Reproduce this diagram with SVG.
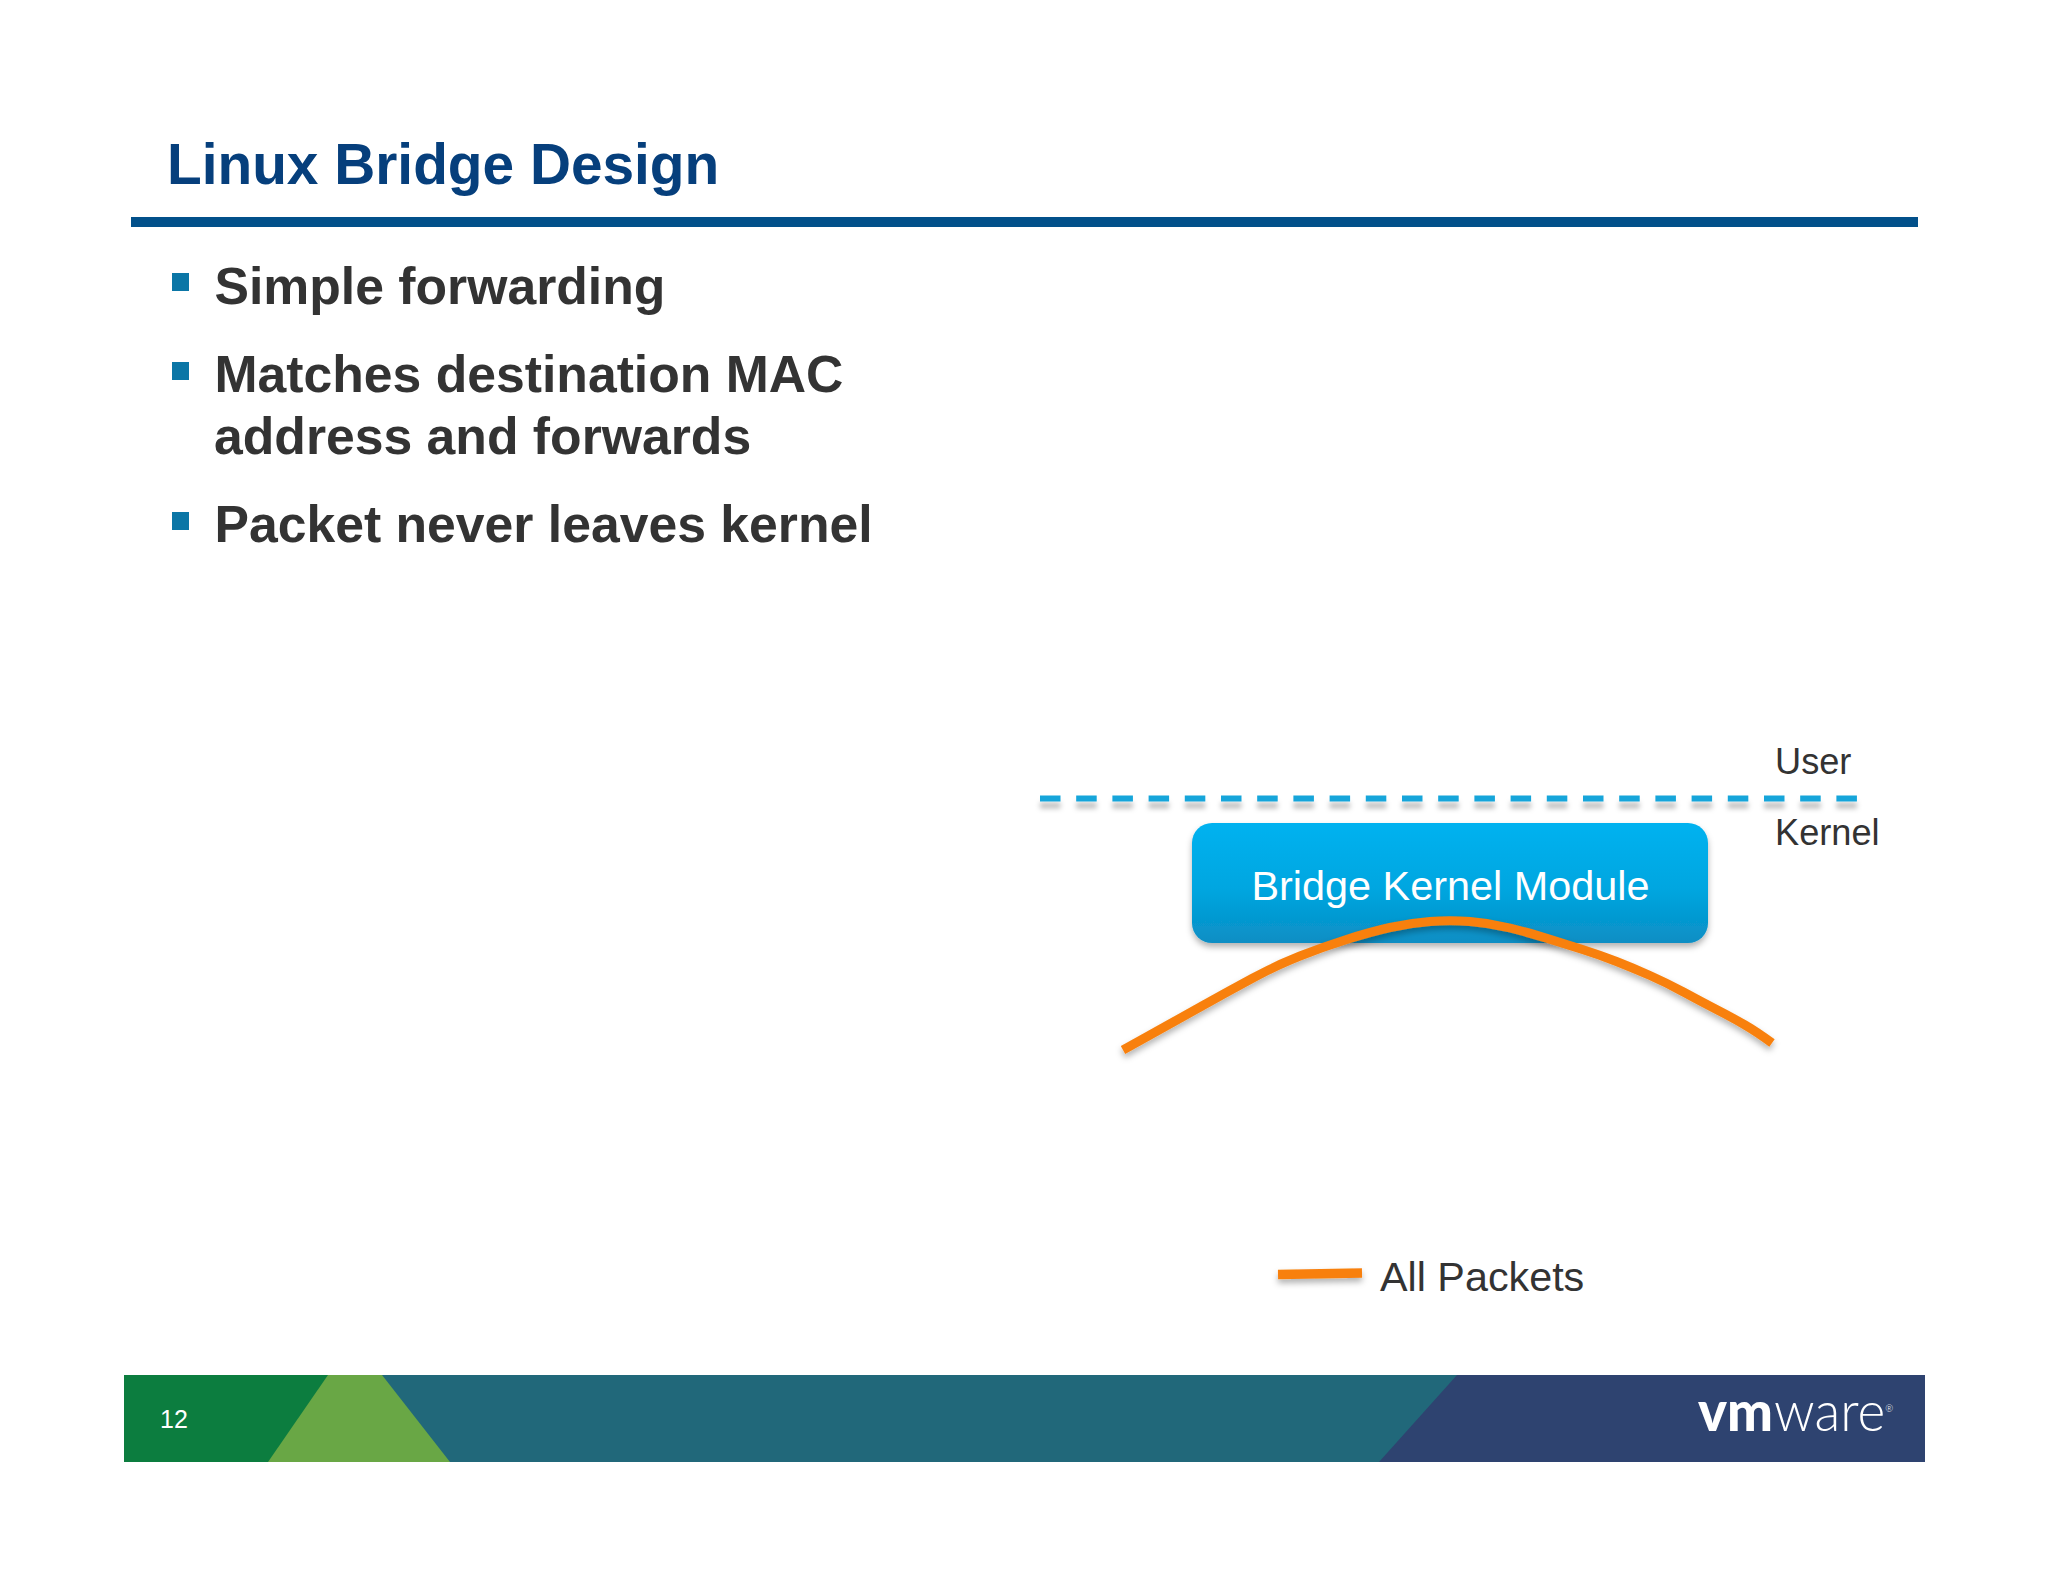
<svg xmlns="http://www.w3.org/2000/svg" width="2048" height="1582" viewBox="0 0 2048 1582">
<style>
text{font-family:"Liberation Sans",Arial,sans-serif}
.b{font-weight:700;font-size:51.7px;fill:#333333}
.l{font-size:36.2px;fill:#333333}
.sq{fill:#0b76a6}
.o{fill:none;stroke:#f8800c}
.logo{font-family:Lato,sans-serif;font-size:56px;fill:#fff}
</style>
<defs>
<linearGradient id="g" x1="0" y1="0" x2="0" y2="1"><stop offset="0" stop-color="#00b2f0"/><stop offset="0.55" stop-color="#00a6e0"/><stop offset="1" stop-color="#0a8ec4"/></linearGradient>
<filter id="s" filterUnits="userSpaceOnUse" x="1000" y="760" width="950" height="560"><feDropShadow dx="0" dy="4" stdDeviation="3" flood-color="#000" flood-opacity="0.3"/></filter>
<filter id="d" filterUnits="userSpaceOnUse" x="1000" y="780" width="900" height="50"><feDropShadow dx="0" dy="7" stdDeviation="2.500" flood-color="#000" flood-opacity="0.25"/></filter>
</defs>
<rect width="2048" height="1582" fill="#fff"/>
<g id="title"><text x="167" y="184" font-size="56.8" font-weight="700" fill="#063f7c">Linux Bridge Design</text></g>
<rect id="rule" x="131" y="217" width="1787" height="10" fill="#02508a"/>
<g id="bullets">
<rect class="sq" x="172" y="273" width="17" height="18"/>
<text class="b" x="214.500" y="304">Simple forwarding</text>
<rect class="sq" x="172" y="362" width="17" height="18"/>
<text class="b" x="214.500" y="392">Matches destination MAC</text>
<text class="b" x="214" y="454">address and forwards</text>
<rect class="sq" x="172" y="512" width="17" height="18"/>
<text class="b" x="214.500" y="542">Packet never leaves kernel</text>
</g>
<g id="labels">
<text class="l" x="1775" y="774">User</text>
<text class="l" x="1775" y="845">Kernel</text>
</g>
<g id="connectors">
<line id="boundary" x1="1040" y1="798.500" x2="1858" y2="798.500" stroke="#12a5da" stroke-width="6" stroke-dasharray="20.500 15.700" filter="url(#d)"/>
</g>
<g id="bridge-module">
<rect x="1192" y="823" width="516" height="120" rx="20" fill="url(#g)" filter="url(#s)"/>
<text x="1450.500" y="900" font-size="41.4" fill="#fff" text-anchor="middle">Bridge Kernel Module</text>
</g>
<g id="packet-path">
<path class="o" stroke-width="9" filter="url(#s)" d="M1123 1050L1150 1035Q1177 1020 1202 1006Q1227 992 1252 978.500Q1277 965 1300 956Q1323 947 1346.500 939.500Q1370 932 1390 927.500Q1410 923 1430 921.500Q1450 920 1470 921.500Q1490 923 1510 928Q1530 933 1547.500 938.500Q1565 944 1582.500 949.500Q1600 955 1616.500 961.500Q1633 968 1650 975.500Q1667 983 1683.500 992Q1700 1001 1716.500 1009.500Q1733 1018 1745 1025Q1757 1032 1772 1043"/>
</g>
<g id="legend">
<path class="o" stroke-width="9.500" filter="url(#s)" d="M1278 1274.500L1362 1273"/>
<text x="1380" y="1291" font-size="41.3" fill="#333333">All Packets</text>
</g>
<g id="footer">
<rect x="124" y="1375" width="400" height="87" fill="#0c7d3f"/>
<rect x="340" y="1375" width="1130" height="87" fill="#21687a"/>
<polygon points="328,1375 382,1375 450,1462 268,1462" fill="#69a745"/>
<polygon points="1457,1375 1925,1375 1925,1462 1379,1462" fill="#2e4370"/>
<text x="160" y="1428" font-size="25" fill="#fff">12</text>
<text class="logo" x="1698" y="1431" font-weight="900" textLength="75" lengthAdjust="spacingAndGlyphs">vm</text>
<text class="logo" transform="translate(1774 1431) scale(0.95 1)" font-weight="300">ware<tspan dy="-19" font-size="10">®</tspan></text>
</g>
</svg>
